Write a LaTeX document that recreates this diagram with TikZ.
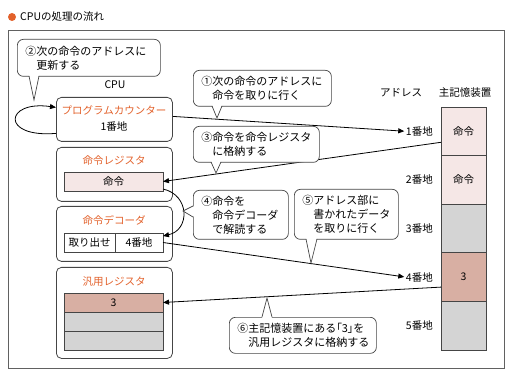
\documentclass[tikz,border=0pt]{standalone}
\usepackage{fontspec}
\setmainfont{Noto Sans CJK JP}
\usetikzlibrary{positioning, arrows.meta}
\definecolor{cpuorange}{HTML}{E2612B}
\definecolor{cellpink}{HTML}{F5E7E6}
\definecolor{celldark}{HTML}{D8AFA3}
\definecolor{cellgray}{HTML}{D4D4D4}
\definecolor{linegray}{HTML}{454545}

% base a, tip, base b, base a inside, base b inside
\newcommand{\calltail}[5]{%
  \fill[white] #4 -- #2 -- #5 -- cycle;
  \draw[linegray, line width=0.7pt] #1 -- #2 -- #3;}

\begin{document}
\begin{tikzpicture}[x=1pt, y=-1pt, font=\fontsize{10.5}{14}\selectfont,
    box/.style={draw=linegray, line width=0.8pt, rounded corners=5pt,
      minimum width=116pt, anchor=north west, inner sep=0pt},
    cell/.style={draw=linegray, line width=0.7pt, inner sep=0pt, outer sep=0pt},
    callout/.style={draw=linegray, line width=0.7pt, fill=white, rounded corners=6pt,
      align=left, anchor=north west, inner xsep=8pt, inner ysep=2pt,
      font=\fontsize{11}{14}\selectfont},
    lbl/.style={inner sep=0pt},
    ttl/.style={inner sep=0pt, text=cpuorange},
    arr/.style={-{Triangle[length=6pt, width=5pt]}, line width=0.8pt}]
  \useasboundingbox (0,0) rectangle (512,377);

  % title and frame
  \fill[cpuorange] (12,17) circle (4pt);
  \node[lbl, anchor=west] (title) at (20,17) {CPUの処理の流れ};
  \draw[linegray!85, line width=0.8pt] (8,30) rectangle (504,368);

  % CPU side
  \node[lbl] (cpu) at (115,85) {CPU};
  \node[box, minimum height=44pt] (pc) at (56,97) {};
  \node[ttl] (pct) at (114,110) {プログラムカウンター};
  \node[lbl] (pcv) at (114,127) {1番地};

  \node[box, minimum height=54pt] (ir) at (56,147) {};
  \node[ttl] (irt) at (114,161) {命令レジスタ};
  \node[cell, fill=cellpink, minimum width=99pt, minimum height=19pt] (irc) at (113.5,181.5) {命令};

  \node[box, minimum height=55pt] (dec) at (56,206) {};
  \node[ttl] (dect) at (114,220) {命令デコーダ};
  \node[cell, minimum width=51pt, minimum height=19pt] (decf) at (89.5,242.5) {取り出せ};
  \node[cell, minimum width=48pt, minimum height=19pt, right=0pt of decf] (dec4) {4番地};

  \node[box, minimum height=91pt] (gr) at (56,267) {};
  \node[ttl] (grt) at (114,282) {汎用レジスタ};
  \node[cell, fill=celldark, minimum width=99pt, minimum height=19pt] (gr1) at (113.5,302.5) {3};
  \node[cell, fill=cellgray, minimum width=99pt, minimum height=19pt, below=0pt of gr1] (gr2) {};
  \node[cell, fill=cellgray, minimum width=99pt, minimum height=19pt, below=0pt of gr2] (gr3) {};

  % main memory
  \node[lbl] (addr) at (401,93) {アドレス};
  \node[lbl] (memt) at (465,93) {主記憶装置};
  \node[cell, fill=cellpink, minimum width=45pt, minimum height=48.6pt] (mem1) at (463.5,131.3) {命令};
  \node[cell, fill=cellpink, minimum width=45pt, minimum height=48.6pt, below=0pt of mem1] (mem2) {命令};
  \node[cell, fill=cellgray, minimum width=45pt, minimum height=48.6pt, below=0pt of mem2] (mem3) {};
  \node[cell, fill=celldark, minimum width=45pt, minimum height=48.6pt, below=0pt of mem3] (mem4) {3};
  \node[cell, fill=cellgray, minimum width=45pt, minimum height=48.6pt, below=0pt of mem4] (mem5) {};
  \foreach \i in {1,...,5}
    \node[lbl, left=8pt of mem\i] (a\i) {{\i}番地};

  % flow
  \draw[arr] ([yshift=-14pt]pc.west) .. controls (0,138) and (5,100) .. ([yshift=12pt]pc.west);
  \draw[arr, shorten >=1.5pt] ([yshift=3pt]pc.east) -- (a1.west);
  \draw[arr] ([yshift=-11pt]mem1.west) -- (irc.east);
  \draw[arr] ([yshift=2pt]irc.south east) .. controls (190,195) and (190,230) .. ([yshift=-3pt]dec4.north east);
  \draw[arr, shorten >=1.5pt] (dec4.east) -- (a4.west);
  \draw[arr] ([yshift=-10pt]mem4.west) -- (gr1.east);

  % callouts
  \node[callout, text width=127pt, minimum height=37pt] (c2) at (17,39)
    {②次の命令のアドレスに\\\hspace*{1em}更新する};
  \calltail{(29,76)}{(34,100)}{(39,76)}{(29,74.5)}{(39,74.5)}

  \node[callout, text width=122pt, minimum height=36pt] (c1) at (193,70)
    {①次の命令のアドレスに\\\hspace*{1em}命令を取りに行く};
  \calltail{(212,106)}{(217,118)}{(222,106)}{(212,104.5)}{(222,104.5)}

  \node[callout, text width=110pt, minimum height=36pt] (c3) at (193,126)
    {③命令を命令レジスタ\\\hspace*{1em}に格納する};
  \calltail{(211,162)}{(216,173)}{(221,162)}{(211,160.5)}{(221,160.5)}

  \node[callout, text width=79pt, minimum height=49pt] (c4) at (193,190)
    {④命令を\\\hspace*{1em}命令デコーダ\\\hspace*{1em}で解読する};
  \calltail{(193,206)}{(183,211)}{(193,217)}{(194.5,206)}{(194.5,217)}

  \node[callout, text width=88pt, minimum height=50pt] (c5) at (294,189)
    {⑤アドレス部に\\\hspace*{1em}書かれたデータ\\\hspace*{1em}を取りに行く};
  \calltail{(306,239)}{(311,263)}{(317,239)}{(306,237.5)}{(317,237.5)}

  \node[callout, text width=131pt, minimum height=36pt] (c6) at (229,317)
    {⑥主記憶装置にある{\addfontfeature{RawFeature=+palt}「3」}を\\\hspace*{1em}汎用レジスタに格納する};
  \calltail{(262,317)}{(267,298)}{(272,317)}{(262,318.5)}{(272,318.5)}
\end{tikzpicture}
\end{document}
